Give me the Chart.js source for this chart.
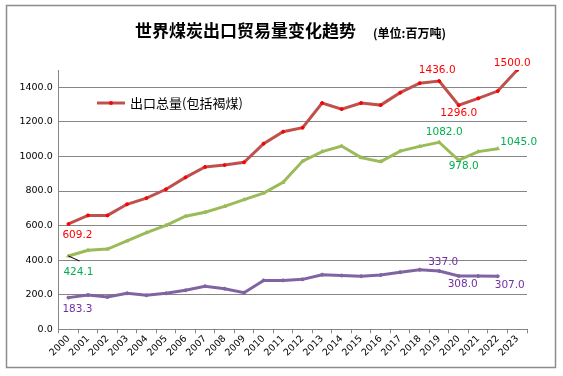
<!DOCTYPE html>
<html><head><meta charset="utf-8">
<script src="https://cdn.jsdelivr.net/npm/chart.js@4/dist/chart.umd.min.js"></script>
<style>html,body{margin:0;padding:0;background:#fff}canvas{display:block}</style>
</head><body>
<canvas id="c" width="563" height="376"></canvas>
<script>
const years = ['2000','2001','2002','2003','2004','2005','2006','2007','2008','2009','2010','2011','2012','2013','2014','2015','2016','2017','2018','2019','2020','2021','2022','2023'];
const totalExport = [609.2,659,659,723,759,810,879,939,950,966,1074,1143,1166,1309,1274,1309,1297,1369,1424,1436,1296,1336,1378,1500];
const seriesGreen = [424.1,457,464,511,559,601,654,677,711,750,788,850,973,1028,1060,993,970,1031,1058,1082,978,1028,1045,null];
const seriesPurple = [183.3,198,187,208,197,208,226,249,235,212,283,283,289,316,311,307,314,330,345,337,308,308,307,null];
const yTickMax = 1400;
const legendText = '出口总量(包括褐煤)';
const titleText = '世界煤炭出口贸易量变化趋势';
const unitText = '(单位:百万吨)';

// labels: dataset index, point index, text colour, offsets
const labelSpecs = [
  {ds:0, i:0, color:'#FF0000', dx:9, dy:11},
  {ds:0, i:19, color:'#FF0000', dx:-2, dy:-11},
  {ds:0, i:20, color:'#FF0000', dx:0, dy:8},
  {ds:0, i:23, color:'#FF0000', dx:-5, dy:-7},
  {ds:1, i:0, color:'#00B050', dx:10, dy:16},
  {ds:1, i:19, color:'#00B050', dx:5, dy:-10},
  {ds:1, i:20, color:'#00B050', dx:5, dy:6},
  {ds:1, i:22, color:'#00B050', dx:21, dy:-6},
  {ds:2, i:0, color:'#7030A0', dx:9, dy:12},
  {ds:2, i:19, color:'#7030A0', dx:4, dy:-9},
  {ds:2, i:20, color:'#7030A0', dx:4, dy:8},
  {ds:2, i:22, color:'#7030A0', dx:12, dy:9}
];

const decor = {
  id:'decor',
  afterDraw(chart){
    const ctx = chart.ctx;
    ctx.save();
    ctx.strokeStyle = '#8c8c8c'; ctx.lineWidth = 1.5;
    ctx.strokeRect(6.5,5.5,549,362);
    ctx.fillStyle = '#000';
    ctx.textBaseline = 'middle'; ctx.textAlign = 'left';
    ctx.font = 'bold 17px "Noto Sans CJK SC"';
    ctx.fillText(titleText, 135, 31);
    ctx.font = 'bold 12px "Noto Sans CJK SC"';
    ctx.fillText(unitText, 373, 33);
    const ds0 = chart.data.datasets[0];
    ctx.strokeStyle = ds0.borderColor; ctx.lineWidth = 3;
    ctx.beginPath(); ctx.moveTo(97,103); ctx.lineTo(125,103); ctx.stroke();
    ctx.fillStyle = ds0.pointBackgroundColor;
    ctx.beginPath(); ctx.arc(111,103,2,0,Math.PI*2); ctx.fill();
    ctx.fillStyle = '#000';
    ctx.font = '13px "Noto Sans CJK SC"';
    ctx.fillText(legendText, 130, 103);
    const xs = chart.scales.x, ys = chart.scales.y;
    ctx.font = '10.5px "DejaVu Sans"';
    ctx.textAlign = 'center';
    labelSpecs.forEach(s => {
      const v = chart.data.datasets[s.ds].data[s.i];
      const px = xs.getPixelForValue(s.i), py = ys.getPixelForValue(v);
      ctx.fillStyle = s.color;
      ctx.fillText(v.toFixed(1), px + s.dx, py + s.dy);
    });
    const lx = xs.getPixelForValue(0), ly = ys.getPixelForValue(seriesGreen[0]);
    ctx.strokeStyle = '#000'; ctx.lineWidth = 1;
    ctx.beginPath(); ctx.moveTo(lx, ly); ctx.lineTo(lx+11, ly+5); ctx.stroke();
    ctx.restore();
  }
};

new Chart(document.getElementById('c'), {
  type:'line',
  data:{
    labels: years,
    datasets:[
      {label:legendText, data: totalExport, borderColor:'#C0504D', backgroundColor:'#C0504D', pointBackgroundColor:'#FF0000', pointBorderColor:'#FF0000', pointStyle:'circle', pointRadius:1.5, pointBorderWidth:1, borderWidth:3, tension:0},
      {label:'g', data: seriesGreen, borderColor:'#9BBB59', backgroundColor:'#9BBB59', pointBackgroundColor:'#9BBB59', pointBorderColor:'#9BBB59', pointStyle:'triangle', pointRadius:2, pointBorderWidth:1, borderWidth:3, tension:0},
      {label:'p', data: seriesPurple, borderColor:'#8064A2', backgroundColor:'#8064A2', pointBackgroundColor:'#8064A2', pointBorderColor:'#8064A2', pointStyle:'circle', pointRadius:1.5, pointBorderWidth:1, borderWidth:3, tension:0}
    ]
  },
  options:{
    responsive:false, animation:false,
    layout:{padding:{left:0, right:36, top:70, bottom:0}},
    plugins:{legend:{display:false}, title:{display:false}, tooltip:{enabled:false}},
    scales:{
      x:{
        offset:true,
        grid:{offset:true, drawOnChartArea:false, drawTicks:true, tickLength:4, color:'#868686'},
        border:{color:'#868686', width:1},
        ticks:{autoSkip:false, maxRotation:45, minRotation:45, color:'#000', padding:0, font:{family:'DejaVu Sans', size:9.5}},
        afterFit(s){ s.height = 46.7; }
      },
      y:{
        min:0, max:1500,
        grid:{color:'#868686', drawTicks:false},
        border:{color:'#868686', width:1},
        ticks:{stepSize:200, padding:6, color:'#000', font:{family:'DejaVu Sans', size:9.5}, callback:v=>Number(v).toFixed(1)},
        afterBuildTicks(s){ s.ticks = s.ticks.filter(t => t.value <= yTickMax); },
        afterFit(s){ s.width = 58.7; }
      }
    }
  },
  plugins:[decor]
});
</script>
</body></html>
